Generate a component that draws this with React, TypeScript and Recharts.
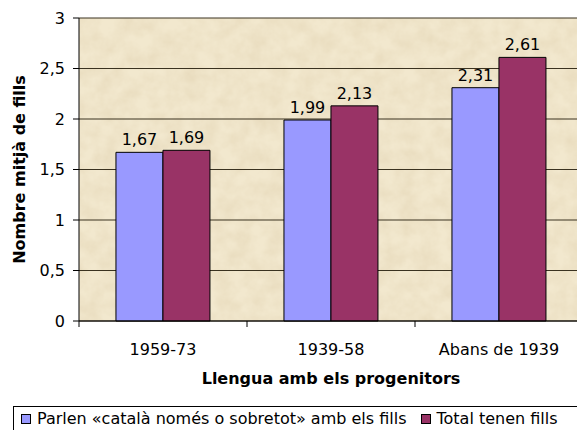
import React from 'react';
import {
  BarChart,
  Bar,
  XAxis,
  YAxis,
  CartesianGrid,
  LabelList
} from 'recharts';

// values
const categories = ['1959-73', '1939-58', 'Abans de 1939'];
const parlenCatala = [1.67, 1.99, 2.31];
const totalFills = [1.69, 2.13, 2.61];
const yTicks = [0, 0.5, 1, 1.5, 2, 2.5, 3];

const seriesNames = [
  'Parlen «català només o sobretot» amb els fills',
  'Total tenen fills'
];
const COLORS = ['#9999FF', '#993366'];

const data = categories.map((name, i) => ({
  name,
  parlen: parlenCatala[i],
  total: totalFills[i]
}));

const FONT = '"DejaVu Sans", Verdana, sans-serif';
const FS = 16;
const comma = (v: any) => String(v).replace('.', ',');

// excel style: tick marks sit between the categories
const CategoryTick = ({ x, y, payload }: any) => {
  const half = payload && payload.offset ? payload.offset : 84;
  return (
    <g>
      <line x1={x - half} y1={y - 8} x2={x - half} y2={y - 2} stroke="#000" />
      <text x={x} y={y + 26} textAnchor="middle" fontSize={FS} fontFamily={FONT} fill="#000">
        {payload.value}
      </text>
    </g>
  );
};

const BoxLegend = () => (
  <div
    style={{
      position: 'absolute',
      left: 13,
      top: 406,
      width: 557,
      border: '1px solid #000',
      display: 'flex',
      alignItems: 'center',
      gap: 14,
      padding: '2px 0 4px 7px',
      fontFamily: FONT,
      fontSize: FS,
      lineHeight: '19px',
      background: '#fff',
      whiteSpace: 'nowrap'
    }}
  >
    {seriesNames.map((s, i) => (
      <span key={s} style={{ display: 'flex', alignItems: 'center' }}>
        <span
          style={{
            display: 'inline-block',
            width: 8,
            height: 8,
            background: COLORS[i],
            border: '1px solid #000',
            marginRight: 6
          }}
        />
        {s}
      </span>
    ))}
  </div>
);

export default function App() {
  return (
    <div style={{ position: 'absolute', left: 0, top: 0, width: 577, height: 430, overflow: 'hidden', background: '#fff' }}>
      <BarChart
        width={600}
        height={450}
        data={data}
        margin={{ top: 18, right: 17, left: 0, bottom: 0 }}
        barCategoryGap="22%"
        barGap={0}
      >
        <defs>
          <filter id="paperNoise" x="0" y="0" width="100%" height="100%">
            <feTurbulence type="fractalNoise" baseFrequency="0.06" numOctaves="4" seed="11" />
            <feColorMatrix
              type="matrix"
              values="0 0 0 0 0.8  0 0 0 0 0.7  0 0 0 0 0.5  1.3 0 0 0 -0.36"
            />
          </filter>
          <pattern id="paper" patternUnits="userSpaceOnUse" width="600" height="450">
            <rect width="600" height="450" fill="#F2E8CE" />
            <rect width="600" height="450" filter="url(#paperNoise)" />
          </pattern>
        </defs>
        <CartesianGrid
          vertical={false}
          stroke="#3a3220"
          fill="url(#paper)"
          fillOpacity={1}
        />
        <XAxis
          dataKey="name"
          height={129}
          axisLine={{ stroke: '#000' }}
          tickLine={false}
          tick={<CategoryTick />}
          interval={0}
          label={{
            value: 'Llengua amb els progenitors',
            position: 'insideBottom',
            offset: 66,
            fontFamily: FONT,
            fontSize: FS,
            fontWeight: 'bold',
            fill: '#000'
          }}
        />
        <YAxis
          domain={[0, 3]}
          ticks={yTicks}
          width={79}
          axisLine={{ stroke: '#000' }}
          tickLine={{ stroke: '#000' }}
          tickSize={6}
          tickMargin={8}
          tickFormatter={comma}
          tick={{ fontFamily: FONT, fontSize: FS, fill: '#000' }}
          label={{
            value: 'Nombre mitjà de fills',
            angle: -90,
            position: 'insideLeft',
            offset: 19,
            style: { textAnchor: 'middle' },
            fontFamily: FONT,
            fontSize: FS,
            fontWeight: 'bold',
            fill: '#000'
          }}
        />
        <Bar dataKey="parlen" name={seriesNames[0]} fill={COLORS[0]} stroke="#000" strokeWidth={1} isAnimationActive={false}>
          <LabelList dataKey="parlen" position="top" offset={7} formatter={comma} fontFamily={FONT} fontSize={FS} fill="#000" />
        </Bar>
        <Bar dataKey="total" name={seriesNames[1]} fill={COLORS[1]} stroke="#000" strokeWidth={1} isAnimationActive={false}>
          <LabelList dataKey="total" position="top" offset={7} formatter={comma} fontFamily={FONT} fontSize={FS} fill="#000" />
        </Bar>
      </BarChart>
      <BoxLegend />
    </div>
  );
}
